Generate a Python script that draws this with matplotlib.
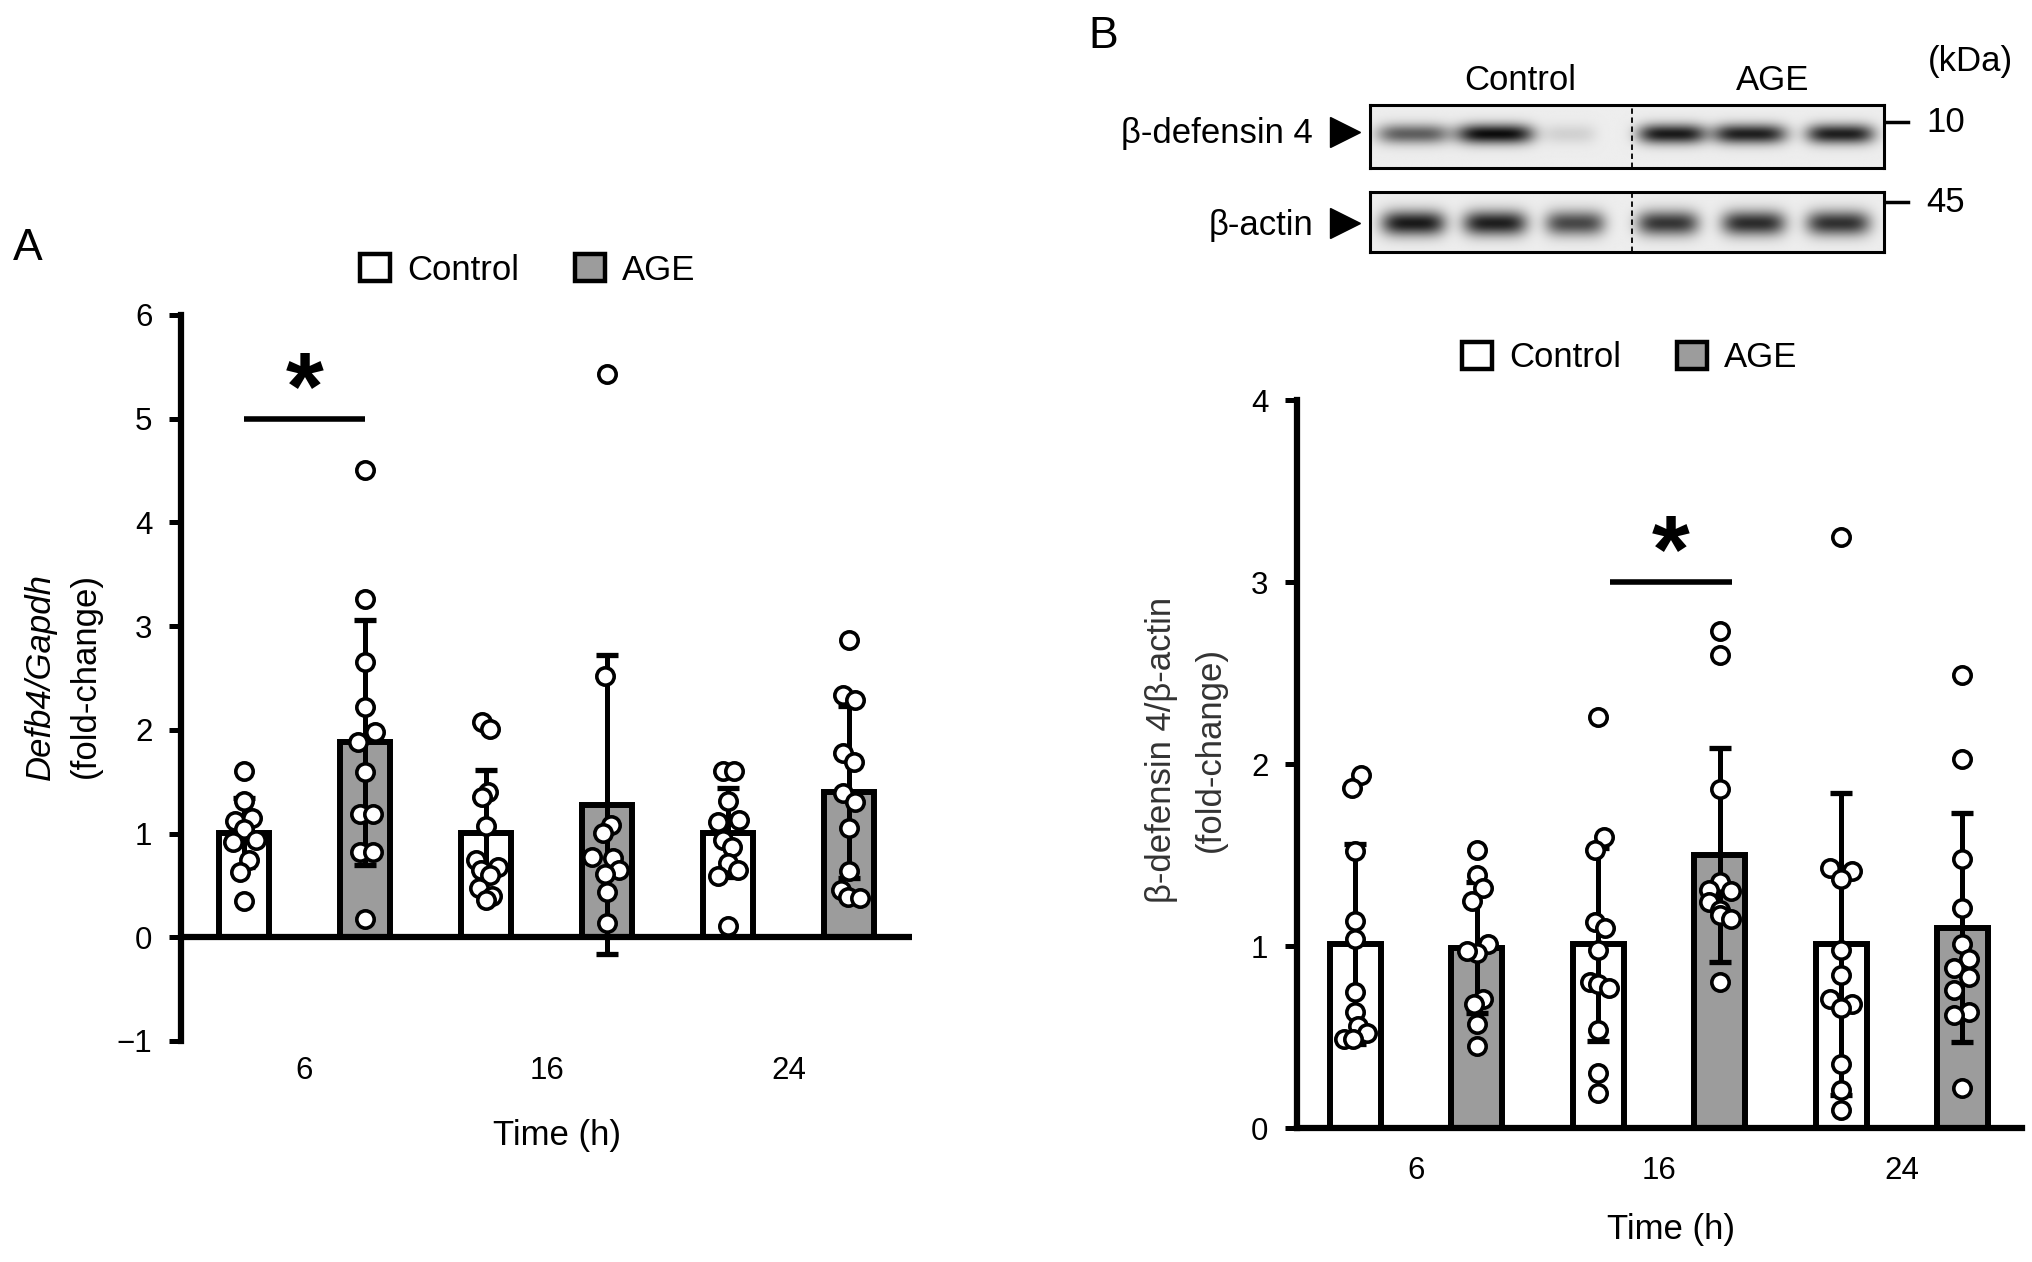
import numpy as np
import matplotlib.pyplot as plt
from matplotlib.patches import Patch

plt.rcParams['font.family'] = ['Liberation Sans', 'DejaVu Sans']

W, H = 2032, 1262
fig = plt.figure(figsize=(W / 100, H / 100), dpi=100)

groups = ['Control', 'AGE']
times = ['6', '16', '24']
bar_gray = '#9c9c9c'

# ---- panel A: Defb4/Gapdh (bars in order ctrl6, age6, ctrl16, age16, ctrl24, age24)
a_means = [1.01, 1.88, 1.01, 1.28, 1.01, 1.40]
a_sd = [0.33, 1.18, 0.60, 1.44, 0.43, 0.83]
a_points = [
    [1.60, 1.31, 1.12, 1.15, 1.04, 0.92, 0.94, 0.75, 0.63, 0.35],
    [4.51, 3.26, 2.65, 2.22, 1.98, 1.88, 1.59, 1.19, 1.19, 0.82, 0.82, 0.18],
    [2.08, 2.01, 1.40, 1.35, 1.07, 0.75, 0.68, 0.65, 0.60, 0.48, 0.40, 0.36],
    [5.43, 2.52, 1.08, 1.01, 0.77, 0.76, 0.65, 0.61, 0.44, 0.14],
    [1.60, 1.60, 1.31, 1.13, 1.11, 0.94, 0.87, 0.72, 0.65, 0.59, 0.11],
    [2.87, 2.34, 2.29, 1.78, 1.69, 1.39, 1.30, 1.05, 0.64, 0.46, 0.39, 0.38],
]
a_jitter = [
    [0, 0, -0.07, 0.07, 0, -0.09, 0.10, 0.04, -0.03, 0],
    [0, 0, 0, 0, 0.08, -0.06, 0, -0.04, 0.07, -0.04, 0.07, 0],
    [-0.03, 0.03, 0.02, -0.03, 0, -0.08, 0.10, -0.04, 0.03, -0.06, 0.05, 0],
    [0, -0.02, 0.03, -0.03, -0.12, 0.05, 0.10, -0.02, 0, 0],
    [-0.04, 0.05, 0, 0.09, -0.08, -0.04, 0.03, 0, 0.08, -0.08, 0],
    [0, -0.05, 0.05, -0.05, 0.04, -0.05, 0.05, 0, 0, -0.07, -0.01, 0.09],
]

# ---- panel B: beta-defensin 4 / beta-actin
b_means = [1.01, 0.99, 1.01, 1.50, 1.01, 1.10]
b_sd = [0.55, 0.36, 0.53, 0.59, 0.83, 0.63]
b_points = [
    [1.94, 1.87, 1.52, 1.14, 1.04, 0.75, 0.64, 0.56, 0.52, 0.49, 0.49],
    [1.53, 1.39, 1.32, 1.25, 1.01, 0.96, 0.97, 0.71, 0.68, 0.57, 0.45],
    [2.26, 1.60, 1.53, 1.13, 1.10, 0.98, 0.80, 0.79, 0.77, 0.54, 0.30, 0.19],
    [2.73, 2.60, 1.86, 1.35, 1.31, 1.30, 1.24, 1.20, 1.17, 1.15, 0.80],
    [3.25, 1.43, 1.41, 1.37, 0.98, 0.84, 0.71, 0.68, 0.66, 0.35, 0.21, 0.10],
    [2.49, 2.03, 1.48, 1.21, 1.01, 0.93, 0.88, 0.83, 0.76, 0.64, 0.62, 0.22],
]
b_jitter = [
    [0.05, -0.03, 0, 0, 0, 0, 0, 0.02, 0.10, -0.09, -0.02],
    [0, 0, 0.05, -0.04, 0.09, 0, -0.08, 0.05, -0.02, 0, 0],
    [0, 0.05, -0.03, -0.03, 0.06, 0, -0.07, 0, 0.09, 0, 0, 0],
    [0, 0, 0, 0, -0.09, 0.09, -0.09, 0, 0, 0.09, 0],
    [0, -0.09, 0.09, 0, 0, 0, -0.09, 0.09, 0, 0, 0, 0],
    [0, 0, 0, 0, 0, 0.05, -0.07, 0.05, -0.07, 0.05, -0.07, 0],
]

# western blot lanes (fraction of box width) and band strengths
blot_lanes_top = [0.084, 0.243, 0.389, 0.588, 0.739, 0.916]
blot_int_top = [0.62, 0.98, 0.12, 0.92, 0.90, 0.90]
blot_w_top = [0.070, 0.075, 0.050, 0.066, 0.072, 0.066]
blot_lanes_bot = [0.084, 0.243, 0.399, 0.580, 0.747, 0.912]
blot_int_bot = [0.92, 0.90, 0.72, 0.80, 0.84, 0.82]
blot_w_bot = [0.062, 0.062, 0.058, 0.060, 0.062, 0.062]

pos = np.arange(6)
bar_colors = ['white', bar_gray] * 3


def draw_panel(ax, means, sds, points, jitter):
    ax.bar(pos, means, width=0.42, color=bar_colors, edgecolor='black',
           linewidth=4.3, zorder=2)
    ax.errorbar(pos, means, yerr=sds, fmt='none', ecolor='black',
                elinewidth=3.6, capsize=8, capthick=3.8, zorder=3)
    for i in range(6):
        xs = pos[i] + np.array(jitter[i])
        ax.plot(xs, points[i], 'o', ms=12.5, mfc='white', mec='black',
                mew=2.6, zorder=4, clip_on=False)
    for s in ['top', 'right']:
        ax.spines[s].set_visible(False)
    ax.spines['left'].set_linewidth(4.5)
    ax.tick_params(axis='y', length=8.6, width=3.6, pad=12, labelsize=22.5)
    ax.set_xticks([0.5, 2.5, 4.5], times)
    ax.patch.set_alpha(0)


def sig(ax, x0, x1, y):
    ax.plot([x0, x1], [y, y], color='black', lw=4, solid_capstyle='butt', zorder=4)
    ax.text((x0 + x1) / 2, y, '*', ha='center', va='baseline', fontsize=70,
            fontweight='bold')


# panel A axes
axA = fig.add_axes([181 / W, 1 - 1041 / H, 731 / W, 726 / H])
draw_panel(axA, a_means, a_sd, a_points, a_jitter)
axA.set_xlim(-0.52, 5.52)
axA.set_ylim(-1, 6)
axA.set_yticks(range(-1, 7))
axA.spines['bottom'].set_visible(False)
axA.axhline(0, color='black', lw=4.5, zorder=5)
axA.tick_params(axis='x', length=0, pad=11, labelsize=22.5)
sig(axA, 0, 1, 5.0)

# panel B axes
axB = fig.add_axes([1297 / W, 1 - 1128 / H, 725 / W, 728 / H])
draw_panel(axB, b_means, b_sd, b_points, b_jitter)
axB.set_xlim(-0.48, 5.49)
axB.set_ylim(0, 4)
axB.set_yticks(range(0, 5))
axB.spines['bottom'].set_linewidth(4.5)
axB.tick_params(axis='x', length=0, pad=20, labelsize=22.5)
sig(axB, 2.1, 3.1, 3.0)

# legends
legend_handles = [Patch(facecolor='white', edgecolor='black', lw=3.2),
                  Patch(facecolor=bar_gray, edgecolor='black', lw=3.2)]
for lx, ly in [(360, 270), (1462, 358)]:
    fig.legend(legend_handles, groups, loc='center left',
               bbox_to_anchor=(lx / W, 1 - ly / H), ncol=2, frameon=False,
               fontsize=25, handlelength=0.86, handleheight=0.86,
               handletextpad=0.5, columnspacing=1.6, borderpad=0,
               borderaxespad=0)


# blots
def blot(box, lanes, intens, widths, yc, hh):
    x0, y0, x1, y1 = box
    bx = fig.add_axes([x0 / W, 1 - y1 / H, (x1 - x0) / W, (y1 - y0) / H])
    X, Y = np.meshgrid(np.linspace(0, 1, 500), np.linspace(0, 1, 80))
    dark = np.zeros_like(X)
    for c, a, w in zip(lanes, intens, widths):
        dark += a * np.exp(-((X - c) / w) ** 4) * np.exp(-((Y - yc) / hh) ** 2)
    img = 0.93 - 0.9 * np.clip(dark, 0, 1)
    bx.imshow(img, cmap='gray', vmin=0, vmax=1, aspect='auto',
              extent=(0, 1, 1, 0), interpolation='bilinear')
    bx.axvline(0.51, color='black', lw=1.3, ls=(0, (3, 2)))
    bx.set_xticks([])
    bx.set_yticks([])
    for s in bx.spines.values():
        s.set_linewidth(2.2)


blot((1370, 105, 1884, 168), blot_lanes_top, blot_int_top, blot_w_top, 0.46, 0.16)
blot((1370, 192, 1884, 252), blot_lanes_bot, blot_int_bot, blot_w_bot, 0.52, 0.21)

# overlay for free text in pixel coordinates
ov = fig.add_axes([0, 0, 1, 1])
ov.set_xlim(0, W)
ov.set_ylim(H, 0)
ov.axis('off')
ov.patch.set_alpha(0)

ov.text(13, 249, 'A', fontsize=32, ha='left', va='center')
ov.text(1088, 37, 'B', fontsize=32, ha='left', va='center')

ov.text(40, 676, 'Defb4/Gapdh', fontsize=25, style='italic', rotation=90,
        ha='center', va='center')
ov.text(85, 676, '(fold-change)', fontsize=25, rotation=90, ha='center', va='center')
ov.text(1162, 750, 'β-defensin 4/β-actin', fontsize=25, rotation=90,
        ha='center', va='center', color='#333333')
ov.text(1210, 750, '(fold-change)', fontsize=25, rotation=90, ha='center',
        va='center', color='#333333')

ov.text(557, 1135, 'Time (h)', fontsize=25, ha='center', va='center')
ov.text(1671, 1229, 'Time (h)', fontsize=25, ha='center', va='center')

ov.text(1313, 133, 'β-defensin 4', fontsize=25, ha='right', va='center')
ov.text(1313, 226, 'β-actin', fontsize=25, ha='right', va='center')
ov.plot([1345, 1345], [132, 223], ls='none', marker='>', ms=21, color='black')
ov.text(1520, 80, 'Control', fontsize=25, ha='center', va='center')
ov.text(1773, 80, 'AGE', fontsize=25, ha='center', va='center')
ov.text(1970, 62, '(kDa)', fontsize=25, ha='center', va='center')
ov.plot([1885, 1908], [122, 122], color='black', lw=2.5)
ov.plot([1885, 1908], [202, 202], color='black', lw=2.5)
ov.text(1926, 122, '10', fontsize=25, ha='left', va='center')
ov.text(1926, 202, '45', fontsize=25, ha='left', va='center')

fig.savefig('out.png', dpi=100)
